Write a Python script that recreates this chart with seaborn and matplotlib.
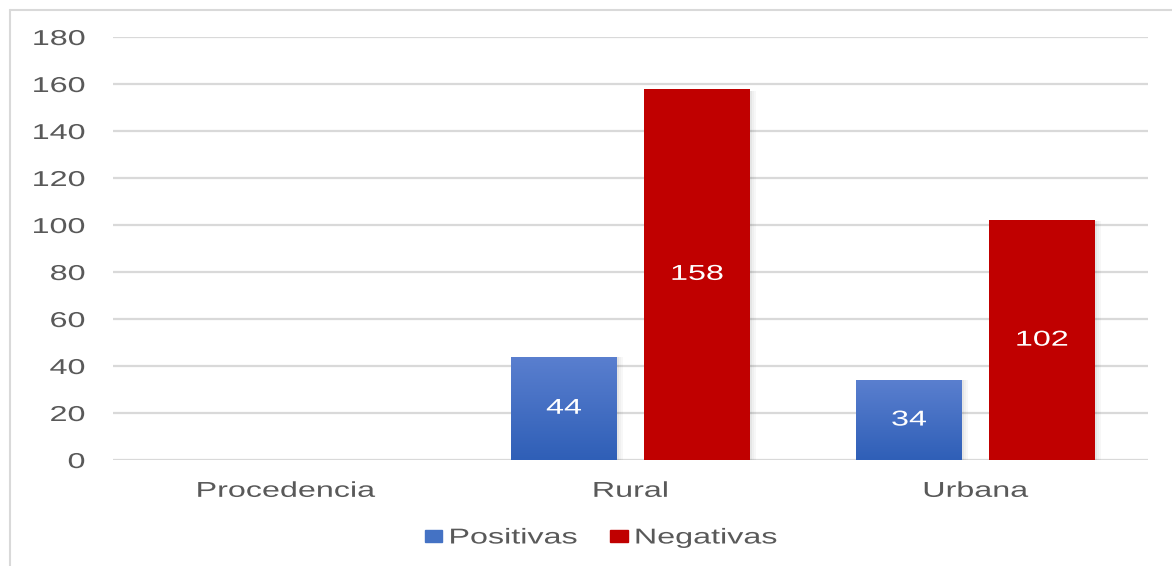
import numpy as np
import pandas as pd
import matplotlib
matplotlib.use("Agg")
import matplotlib.pyplot as plt
import seaborn as sns
from matplotlib.colors import LinearSegmentedColormap
from matplotlib.lines import Line2D
from matplotlib.patches import Patch, Rectangle
from matplotlib.patheffects import AbstractPathEffect
from matplotlib.path import Path
from matplotlib.transforms import Affine2D

categories = ["Procedencia", "Rural", "Urbana"]
positivas = [None, 44, 34]
negativas = [None, 158, 102]
series = ["Positivas", "Negativas"]
yticks = [0, 20, 40, 60, 80, 100, 120, 140, 160, 180]

rows = []
for cat, p, n in zip(categories, positivas, negativas):
    if p is not None:
        rows.append({"cat": cat, "serie": "Positivas", "valor": p})
    if n is not None:
        rows.append({"cat": cat, "serie": "Negativas", "valor": n})
df = pd.DataFrame(rows)


class Widen(AbstractPathEffect):
    """Draw text horizontally widened around a chosen anchor."""

    def __init__(self, sx=1.5, anchor="center"):
        super().__init__()
        self.sx = sx
        self.anchor = anchor

    def draw_path(self, renderer, gc, tpath, affine, rgbFace=None):
        verts = tpath.vertices
        if tpath.codes is not None:
            keep = (tpath.codes != Path.CLOSEPOLY) & (tpath.codes != Path.STOP)
            verts = verts[keep]
        if len(verts) == 0:
            return
        xs = affine.transform(verts)[:, 0]
        x0, x1 = xs.min(), xs.max()
        ref = {"left": x0, "right": x1, "center": 0.5 * (x0 + x1)}[self.anchor]
        extra = Affine2D().translate(-ref, 0).scale(self.sx, 1).translate(ref, 0)
        renderer.draw_path(gc, tpath, affine + extra, rgbFace)


sns.set_theme(style="white")
plt.rcParams["font.family"] = ["Liberation Sans", "DejaVu Sans"]

FS = 15.5
GREY = "#595959"
SX = 1.5

fig = plt.figure(figsize=(11.72, 5.66), dpi=100)
ax = fig.add_axes([113 / 1172, 1 - 460 / 566, 1035 / 1172, 423 / 566])

blue = "#4472c4"
red = "#c00000"
sns.barplot(data=df, x="cat", y="valor", hue="serie", order=categories,
            hue_order=series, palette=[blue, red], width=0.771, gap=0.203,
            ax=ax, legend=False, saturation=1, linewidth=0)

ax.set_ylim(0, 180)
ax.set_xlim(-0.5, 2.5)
ax.set_yticks(yticks)
ax.set_xlabel("")
ax.set_ylabel("")
for s in ax.spines.values():
    s.set_visible(False)
ax.yaxis.grid(True, color="#d9d9d9", linewidth=1.6)
ax.set_axisbelow(True)
ax.tick_params(axis="both", length=0, labelsize=FS, colors=GREY)
ax.tick_params(axis="y", pad=20)
ax.tick_params(axis="x", pad=15)

# gradient fill for the blue bars, solid for the red ones, plus white labels
grad = LinearSegmentedColormap.from_list("g", ["#2f5fb7", "#5a7fcf"])
for patch in list(ax.patches):
    h = patch.get_height()
    if not np.isfinite(h) or h <= 0:
        continue
    x0 = patch.get_x()
    w = patch.get_width()
    # soft shadow on the right side
    for k, a in enumerate([0.10, 0.06, 0.03]):
        ax.add_patch(Rectangle((x0 + w + k * 0.006, 0), 0.006, h * 0.995,
                               color="black", alpha=a, lw=0, zorder=1.5))
    fc = patch.get_facecolor()
    if fc[2] > fc[0]:
        img = np.linspace(0, 1, 256).reshape(-1, 1)
        im = ax.imshow(img, cmap=grad, aspect="auto", origin="lower",
                       extent=[x0, x0 + w, 0, h], zorder=patch.get_zorder() + 0.1)
        im.set_clip_path(patch)
    ax.text(x0 + w / 2, h / 2, f"{int(round(h))}", ha="center", va="center",
            color="white", fontsize=FS, zorder=5,
            path_effects=[Widen(SX, "center")])
ax.set_xlim(-0.5, 2.5)
ax.set_ylim(0, 180)

for t in ax.yaxis.get_major_ticks():
    t.label1.set_path_effects([Widen(SX, "right")])
for t in ax.xaxis.get_major_ticks():
    t.label1.set_path_effects([Widen(SX, "center")])

handles = [Patch(facecolor=c, edgecolor=c) for c in (blue, red)]
leg = fig.legend(handles, series, loc="center left",
                 bbox_to_anchor=(425 / 1172, 1 - 538 / 566),
                 ncol=2, frameon=False, fontsize=FS, labelcolor=GREY,
                 handletextpad=0.33, columnspacing=3.5, handlelength=0.8,
                 handleheight=0.5, borderpad=0, borderaxespad=0)
for txt in leg.get_texts():
    txt.set_path_effects([Widen(SX, "left")])

# light frame around the chart area
fig.add_artist(Line2D([10 / 1172, 10 / 1172], [0, 1 - 10 / 566],
                      transform=fig.transFigure, color="#d9d9d9", lw=1.5))
fig.add_artist(Line2D([10 / 1172, 1], [1 - 10 / 566, 1 - 10 / 566],
                      transform=fig.transFigure, color="#d9d9d9", lw=1.5))

fig.savefig("out.png", dpi=100, facecolor="white")
